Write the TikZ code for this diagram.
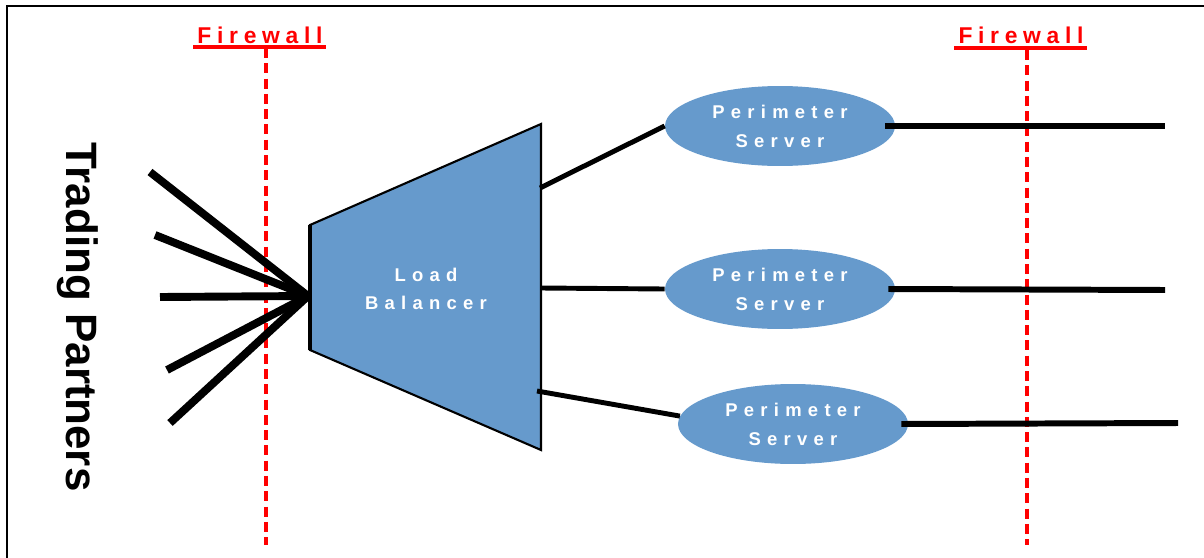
\documentclass[tikz,border=0pt]{standalone}
\usepackage{fontspec}
\setmainfont{Liberation Sans}
\newfontfamily\spacedfont[LetterSpace=34]{Liberation Sans}
\newfontfamily\wallfont[LetterSpace=25]{Liberation Sans}
\usetikzlibrary{shapes.geometric}
\definecolor{lbblue}{RGB}{102,154,204}
\definecolor{wallred}{RGB}{255,0,0}
\tikzstyle{server} = [
    ellipse,
    fill = lbblue,
    text = white,
    align = center,
    inner sep = 0pt,
    font = \spacedfont\bfseries\fontsize{10.5}{16.4}\selectfont,
    minimum width = 4.6cm,
    minimum height = 1.6cm
]
\tikzstyle{walllabel} = [
    text = wallred,
    inner sep = 0pt,
    minimum width = 2.66cm,
    font = \wallfont\bfseries\fontsize{13}{15}\selectfont
]
\tikzstyle{wall} = [draw = wallred, line width = 2pt, dash pattern = on 5.7pt off 3pt]
\tikzstyle{partner} = [line width = 4.5pt]
\tikzstyle{link} = [line width = 2.8pt]
\tikzstyle{uplink} = [line width = 3.4pt]

\begin{document}
\begin{tikzpicture}[x = 0.02cm, y = -0.02cm]
    \useasboundingbox (0,0) rectangle (1204,558);
    % frame
    \draw[line width = 1.2pt] (7,558) -- (7,6) -- (1204,6);

    % firewalls
    \node[walllabel, anchor = base] (fw1) at (260,43) {Firewall};
    \node[walllabel, anchor = base] (fw2) at (1021,43) {Firewall};
    \draw[wallred, line width = 2.8pt] (fw1.base west) ++(0,4) -- ++(133,0);
    \draw[wallred, line width = 2.8pt] (fw2.base west) ++(0,5) -- ++(133,0);
    \coordinate (fw1top) at (266,48);
    \coordinate (fw1bot) at (266,545);
    \coordinate (fw2top) at (1027,50);
    \coordinate (fw2bot) at (1027,545);
    \draw[wall] (fw1top) -- (fw1bot);
    \draw[wall] (fw2top) -- (fw2bot);

    % trading partners
    \node[rotate = -90, font = \bfseries\fontsize{25}{30}\selectfont] (partners) at (78,317) {Trading Partners};
    \coordinate (fan) at (308,296);
    \foreach \px/\py in {150/172, 155/235, 160/297, 167/370, 170/423}
        \draw[partner] (\px,\py) -- (fan);

    % load balancer
    \coordinate (lbnw) at (310,225);
    \coordinate (lbne) at (541,124);
    \coordinate (lbse) at (541,450);
    \coordinate (lbsw) at (310,350);
    \draw[fill = lbblue, line width = 1.2pt] (lbnw) -- (lbne) -- (lbse) -- (lbsw) -- cycle;
    \draw[line width = 2.4pt] (lbsw) -- (lbnw);
    \draw[line width = 1.6pt] (lbne) -- (lbse);
    \node[text = white, align = center, font = \spacedfont\bfseries\fontsize{10.5}{16}\selectfont] (lb) at (426,289) {Load\\Balancer};

    % perimeter servers
    \node[server] (srv1) at (780,126) {Perimeter\\Server};
    \node[server] (srv2) at (780,289) {Perimeter\\Server};
    \node[server] (srv3) at (793,424) {Perimeter\\Server};
    \coordinate (lb1) at (540,188);
    \coordinate (lb2) at (541,288);
    \coordinate (lb3) at (537,391);
    \draw[link] (lb1) -- (srv1.west);
    \draw[link] (lb2) -- (srv2.west);
    \draw[link] (lb3) -- (srv3.176);

    % to the inside
    \coordinate (out1) at (1165,126);
    \coordinate (out2) at (1165,290);
    \coordinate (out3) at (1178,423);
    \draw[uplink] ([xshift = -6pt]srv1.east) -- (out1);
    \draw[uplink] ([xshift = -4pt]srv2.east) -- (out2);
    \draw[uplink] ([xshift = -4pt]srv3.east) -- (out3);
\end{tikzpicture}
\end{document}
